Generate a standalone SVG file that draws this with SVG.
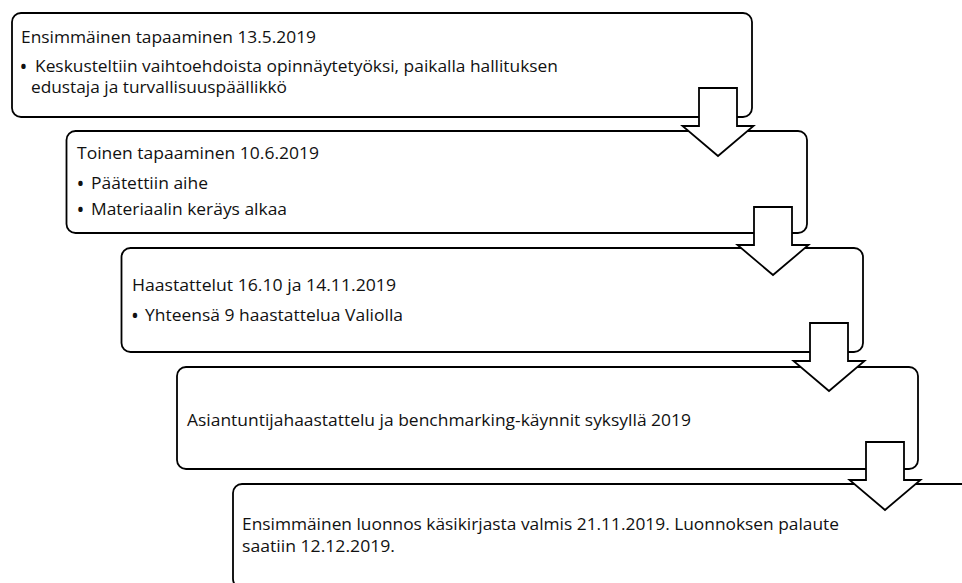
<svg xmlns="http://www.w3.org/2000/svg" xmlns:xlink="http://www.w3.org/1999/xlink" width="962" height="583" viewBox="0 0 962 583">
<style>
.box{fill:#fff;stroke:#000;stroke-width:1.8}
.arr{fill:#fff;stroke:#000;stroke-width:1.8;stroke-linejoin:miter}
text{font-family:"Open Sans","Noto Sans","Liberation Sans",sans-serif;font-size:15.5px;fill:#111}
.b{font-size:21px}
</style>
<defs>
<path id="arrow" d="M-19,0 H19 V38 H35.5 L0,68 L-35.5,38 H-19 Z"/>
</defs>
<rect width="962" height="583" fill="#fff"/>
<g id="node1">
<rect class="box" x="12" y="13" width="740" height="104" rx="9"/>
<text x="21" y="43" textLength="295" lengthAdjust="spacingAndGlyphs">Ensimmäinen tapaaminen 13.5.2019</text>
<text class="b" x="19.5" y="74">•</text>
<text x="35" y="72" textLength="523" lengthAdjust="spacingAndGlyphs">Keskusteltiin vaihtoehdoista opinnäytetyöksi, paikalla hallituksen</text>
<text x="31" y="93" textLength="256" lengthAdjust="spacingAndGlyphs">edustaja ja turvallisuuspäällikkö</text>
</g>
<g id="node2">
<rect class="box" x="66.5" y="131" width="740.5" height="102" rx="9"/>
<text x="77" y="159" textLength="242" lengthAdjust="spacingAndGlyphs">Toinen tapaaminen 10.6.2019</text>
<text class="b" x="76.5" y="191">•</text>
<text x="91" y="189" textLength="117" lengthAdjust="spacingAndGlyphs">Päätettiin aihe</text>
<text class="b" x="76.5" y="217">•</text>
<text x="91" y="215" textLength="196" lengthAdjust="spacingAndGlyphs">Materiaalin keräys alkaa</text>
</g>
<g id="node3">
<rect class="box" x="121.5" y="248" width="741.5" height="104" rx="9"/>
<text x="132" y="291" textLength="264" lengthAdjust="spacingAndGlyphs">Haastattelut 16.10 ja 14.11.2019</text>
<text class="b" x="131" y="323">•</text>
<text x="145" y="321" textLength="258" lengthAdjust="spacingAndGlyphs">Yhteensä 9 haastattelua Valiolla</text>
</g>
<g id="node4">
<rect class="box" x="177" y="367" width="741" height="102" rx="9"/>
<text x="187" y="426" textLength="504" lengthAdjust="spacingAndGlyphs">Asiantuntijahaastattelu ja benchmarking-käynnit syksyllä 2019</text>
</g>
<g id="node5">
<rect class="box" x="233" y="484" width="741" height="104" rx="9"/>
<text x="242" y="530" textLength="597" lengthAdjust="spacingAndGlyphs">Ensimmäinen luonnos käsikirjasta valmis 21.11.2019. Luonnoksen palaute</text>
<text x="242" y="552" textLength="153" lengthAdjust="spacingAndGlyphs">saatiin 12.12.2019.</text>
</g>
<g id="connectors">
<use xlink:href="#arrow" class="arr" transform="translate(718,88)"/>
<use xlink:href="#arrow" class="arr" transform="translate(773,207)"/>
<use xlink:href="#arrow" class="arr" transform="translate(829,323)"/>
<use xlink:href="#arrow" class="arr" transform="translate(885,442)"/>
</g>
</svg>
